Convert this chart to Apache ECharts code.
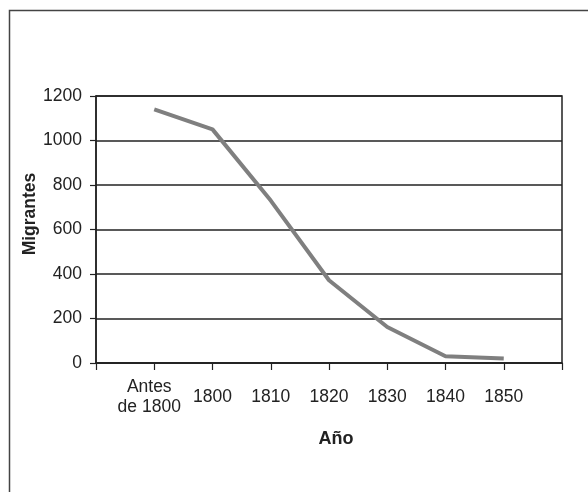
<!DOCTYPE html>
<html>
<head>
<meta charset="utf-8">
<script src="https://cdn.jsdelivr.net/npm/echarts@6/dist/echarts.min.js"></script>
<style>
html,body{margin:0;padding:0;background:#fff;}
#c{width:588px;height:492px;}
</style>
</head>
<body>
<div id="c"></div>
<script>
var categories = ['', 'Antes\nde 1800', '1800', '1810', '1820', '1830', '1840', '1850', ''];
var migrantes = [null, 1140, 1050, 730, 372, 162, 30, 20, null];
var yTicks = {min: 0, max: 1200, interval: 200};
var yTitle = 'Migrantes';
var xTitle = 'Año';

var chart = echarts.init(document.getElementById('c'), null, {renderer: 'canvas'});
var font = 'Liberation Sans, Arial, sans-serif';
chart.setOption({
  animation: false,
  backgroundColor: '#fff',
  grid: {left: 96, right: 26, top: 96, bottom: 129, show: true, borderColor: '#222', borderWidth: 1.5, backgroundColor: 'transparent'},
  xAxis: {
    type: 'category',
    data: categories,
    boundaryGap: false,
    axisLine: {lineStyle: {color: '#222', width: 1.5}},
    axisTick: {show: true, length: 7, alignWithLabel: false, interval: 0, lineStyle: {color: '#222', width: 1.2}},
    axisLabel: {
      interval: 0, color: '#222', fontSize: 17.5, fontFamily: font, margin: 34, verticalAlign: 'middle', lineHeight: 20,
      formatter: function (v) {
        if (v.indexOf('\n') >= 0) {
          return v.split('\n').map(function (s) { return '{a|' + s + '}'; }).join('\n');
        }
        return v;
      },
      rich: {a: {fontSize: 17.5, fontFamily: font, color: '#222', lineHeight: 20, padding: [0, 10, 0, 0]}}
    },
    splitLine: {show: false}
  },
  yAxis: {
    type: 'value',
    min: yTicks.min, max: yTicks.max, interval: yTicks.interval,
    axisLine: {show: true, lineStyle: {color: '#222', width: 1.5}},
    axisTick: {show: true, length: 6, lineStyle: {color: '#222', width: 1.2}},
    axisLabel: {color: '#222', fontSize: 17.5, fontFamily: font, margin: 14, formatter: function (v) { return String(v); }},
    splitLine: {show: true, lineStyle: {color: '#222', width: 1.5}}
  },
  series: [{
    type: 'line',
    data: migrantes,
    symbol: 'none',
    connectNulls: false,
    lineStyle: {color: '#7f7f7f', width: 4},
    itemStyle: {color: '#7f7f7f'}
  }],
  graphic: [
    {type: 'rect', shape: {x: 9.5, y: 10.5, width: 620, height: 520}, style: {fill: 'none', stroke: '#444', lineWidth: 1.5}, silent: true},
    {type: 'text', x: 30, y: 214, rotation: Math.PI / 2, style: {text: yTitle, font: 'bold 17.5px ' + font, fill: '#222', textAlign: 'center', textVerticalAlign: 'middle'}},
    {type: 'text', x: 336, y: 439, style: {text: xTitle, font: 'bold 18px ' + font, fill: '#222', textAlign: 'center', textVerticalAlign: 'middle'}}
  ]
});
</script>
</body>
</html>
